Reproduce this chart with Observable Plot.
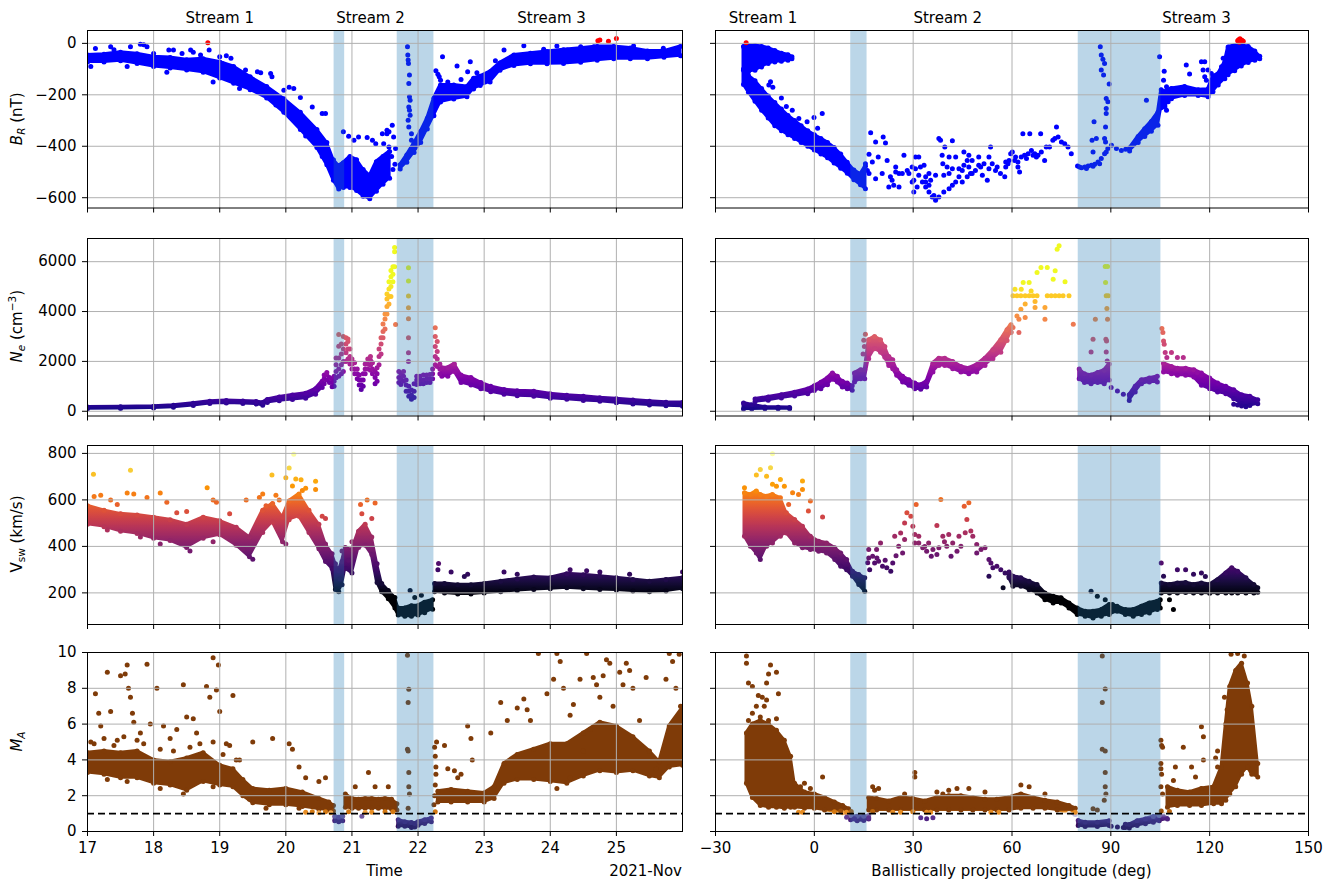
<!DOCTYPE html>
<html><head><meta charset="utf-8">
<script src="https://cdn.jsdelivr.net/npm/d3@7"></script>
<script src="https://cdn.jsdelivr.net/npm/@observablehq/plot@0.6"></script>
<style>
html,body{margin:0;padding:0;background:#fff;}
#fig{position:relative;width:1336px;height:882px;overflow:hidden;background:#fff;}
</style></head><body><div id="fig"></div>
<script>
// ---------------- axes / annotations ----------------
const timeTicks = [17,18,19,20,21,22,23,24,25];
const lonTicks = [-30,0,30,60,90,120,150];
const brTicks = [0,-200,-400,-600];
const neTicks = [0,2000,4000,6000];
const vTicks = [200,400,600,800];
const maTicks = [0,2,4,6,8,10];
const spanTimeStart = [20.73, 21.685], spanTimeEnd = [20.89, 22.24];
const spanLonStart = [11.05, 80.1], spanLonEnd = [16.0, 105.2];
const streamNames = ["Stream 1","Stream 2","Stream 3"];
const streamTimePos = [19.0, 21.28, 24.02];
const streamLonPos = [-15.6, 40.5, 116.0];

// ---------------- B_R vs time ----------------
const brL1T  = [17.0,17.25,17.5,17.75,18.0,18.25,18.5,18.75,19.0,19.21,19.46,19.71,19.97,20.22,20.47,20.62,20.72,20.8,20.87,20.97,21.07,21.17,21.27,21.37,21.47,21.57];
const brL1Lo = [-72,-72,-68,-78,-90,-96,-104,-112,-135,-155,-180,-212,-268,-335,-405,-472,-532,-566,-560,-560,-572,-594,-604,-575,-548,-524];
const brL1Hi = [-45,-42,-35,-40,-52,-55,-64,-60,-72,-90,-130,-168,-215,-268,-335,-385,-452,-476,-464,-440,-452,-490,-514,-460,-440,-420];
const brL2T  = [21.73,21.83,21.94,22.04,22.14,22.24,22.34,22.54,22.74,22.84,22.94,23.09,23.24,23.45,23.7,23.95,24.2,24.46,24.71,24.96,25.21,25.47,25.72,25.97];
const brL2Lo = [-488,-462,-424,-385,-333,-281,-228,-216,-208,-177,-164,-150,-105,-86,-79,-79,-78,-73,-66,-60,-60,-60,-54,-48];
const brL2Hi = [-472,-434,-388,-343,-291,-213,-162,-162,-168,-136,-128,-110,-76,-45,-38,-32,-25,-19,-12,-12,-18,-30,-30,-12];
const brDotsL = [[17.12,-20],[17.35,-13],[17.65,-13],[17.8,-3],[17.85,-5],[17.9,-13],[18.0,-39],[18.23,-26],[18.3,-26],[18.43,-39],[18.56,-26],[18.71,-45],[18.84,-26],[19.0,-52],[19.04,-78],[19.17,-58],[19.39,-104],[19.57,-110],[19.62,-114],[19.77,-117],[19.79,-130],[19.97,-182],[20.05,-171],[20.12,-175],[20.22,-210],[20.4,-247],[20.55,-273],[20.6,-273],[20.87,-344],[20.95,-361],[21.03,-377],[21.1,-364],[21.23,-366],[21.31,-377],[21.36,-390],[21.53,-351],[21.56,-344],[21.46,-351],[21.53,-338],[21.61,-318],[21.63,-364],[21.48,-390],[21.56,-403],[21.66,-409],[21.6,-440],[21.65,-470],[21.62,-490],
[21.84,-13],[21.845,-45],[21.85,-65],[21.855,-78],[21.87,-123],[21.86,-156],[21.87,-208],[21.88,-221],[21.86,-247],[21.87,-260],[21.88,-279],[21.85,-299],[21.86,-325],[21.9,-351],[21.9,-377],
[22.27,-106],[22.34,-143],[22.37,-52],[22.32,-130],[22.3,-120],[22.59,-88],[22.75,-110],[22.79,-71],[22.89,-114],[23.17,-68],[23.3,-26],[23.6,-9],[23.9,-23],[24.1,-10],[24.26,-26],[24.46,-13],[24.66,-13],[25.26,-10],[25.71,-19],[22.45,-150],[22.65,-140],
[17.05,-90],[17.6,-90],[18.2,-112],[18.9,-150],[19.3,-175],[19.85,-240],[20.3,-360],[20.55,-440],[17.4,-25],[18.6,-35],[19.1,-48],
[18.82,2],[24.72,10],[24.75,13],[24.88,8],[25.0,19]];

// ---------------- B_R vs longitude ----------------
const brRcT  = [-21.5,-20,-18,-16,-14,-12,-10,-8,-6.8];
const brRcLo = [-100,-110,-105,-92,-78,-72,-70,-66,-60];
const brRcHi = [-12,-8,-8,-12,-18,-28,-38,-44,-52];
const brRmT  = [-21.5,-20,-18,-16,-14,-12,-10,-8,-6,-4,-2,0,2,4,6,8,10,12,14,15.5];
const brRmLo = [-160,-190,-225,-260,-290,-320,-340,-355,-370,-385,-400,-415,-430,-445,-465,-485,-505,-530,-550,-565];
const brRmHi = [-105,-125,-145,-175,-205,-230,-255,-280,-300,-320,-340,-355,-370,-385,-405,-430,-462,-492,-508,-478];
const brRsT  = [95.7,98.3,100.3,102.3,104.3,105.3,106.4,108.4,112.4,116.5,119.5,121,122.6,124.6,125.6,127.6,129.6,131.7,133.7,135.2];
const brRsLo = [-418,-385,-362,-342,-318,-250,-240,-215,-203,-203,-208,-188,-162,-138,-122,-106,-88,-74,-66,-60];
const brRsHi = [-407,-362,-332,-304,-268,-180,-188,-175,-168,-180,-178,-128,-118,-72,-14,-8,-8,-12,-30,-50];
const brDotsR = [[-13.8,-162],[-12.6,-171],[-10,-212],[-4.7,-292],[-0.1,-288],[2.4,-273],[-2.2,-305],[2.9,-387],[-13.3,-149],[-6.7,-260],[-8.5,-245],[-5.5,-320],[1,-330],
[17.1,-347],[18.6,-383],[20.9,-364],[21.6,-387],[16.6,-431],[19.4,-442],[22.1,-455],[17.6,-461],[15.5,-468],[16.1,-494],[16.6,-506],[18.6,-526],[20.6,-506],[23.1,-519],[24.7,-481],[25.7,-506],[27.2,-435],[28.2,-494],[29.7,-481],[30.7,-442],[30.2,-532],[31.7,-513],[32.8,-539],[33.8,-558],[34.8,-552],[35.8,-597],[36.8,-610],[37.8,-597],[39.3,-578],[40.9,-565],[41.9,-552],[42.9,-539],[43.9,-519],[44.9,-539],[46.4,-519],[47.4,-506],[48.9,-494],[49.9,-474],[51,-513],[53,-487],[53,-442],[53.5,-403],[55,-494],[56.5,-506],[58.1,-481],[59.1,-455],[60.1,-422],[61.1,-442],[37.8,-370],[38.3,-377],[39.6,-403],[41.9,-379],[40.9,-442],[42.9,-442],[38.8,-435],[45.4,-422],[46.4,-455],[46.9,-435],[47.9,-455],[45.4,-474],[43.9,-487],[39.3,-513],[40.9,-506],[40.3,-481],[36.8,-513],[34.8,-506],[33.3,-474],[33.8,-519],[25.7,-558],[26.7,-506],[24.1,-552],[22.6,-558],[30.2,-578],[28.7,-506],[30.7,-487],[32.2,-481],[34.8,-578],[36.3,-591],[24.7,-500],[23.6,-532],[52.5,-532],[49.9,-442],[47.9,-506],[29.7,-539],[31.2,-558],[33.8,-539],[31.7,-442],[35.3,-532],[41.9,-487],[39,-468],[44.9,-494],[46.9,-481],[50.5,-481],[51.5,-468],[54,-468],[55.5,-481],[58.1,-461],[59.6,-429],
[57.8,-519],[58.8,-468],[60.8,-455],[61.8,-481],[62.3,-500],[62.8,-442],[63.8,-435],[64.9,-429],[65.9,-416],[66.9,-429],[67.9,-435],[68.9,-422],[69.9,-455],[70.4,-403],[71.4,-403],[72.4,-377],[73,-370],[73.5,-325],[74,-364],[75,-383],[76,-390],[77,-403],[78,-429],[63.3,-351],[65.4,-351],[68.7,-351],[61.8,-461],[64.4,-448],[66.4,-435],[67.4,-442],
[79.9,-477],[81.1,-484],[82.1,-481],[83.1,-477],[84.1,-474],[85.1,-470],[86.1,-461],[87.1,-448],[88.1,-429],[88.6,-422],[89.1,-409],[90.2,-396],[80.5,-481],[82.6,-486],[84.6,-478],[86.6,-468],
[86.8,-13],[87.1,-45],[87.6,-62],[88.1,-78],[87.1,-104],[87.8,-123],[89.5,-158],[88.6,-214],[89.1,-227],[88.6,-253],[88.6,-273],[88.4,-325],[88.1,-370],[88.4,-383],
[84.9,-305],[84.3,-377],[85.6,-370],[84.6,-422],[91.7,-409],[93.2,-416],[94.5,-412],
[104.8,-52],[106.2,-108],[106,-143],[106.9,-169],[112.9,-84],[113.9,-119],[117.5,-71],[118.5,-71],[118,-104],[119.5,-104],[120.5,-117],[121.5,-143],[124.1,-58],[123.6,-91],[118.5,-130],[119,-143],[100.8,-221],[107.4,-227],[106.4,-247],[106.9,-260],
[-20.7,2],[128.5,10],[129.2,18],[129.8,12],[130.2,8],[129,4],[128.8,14]];

// ---------------- N_e vs time ----------------
const neLAT  = [17.0,17.5,18.0,18.3,18.6,18.85,19.1,19.35,19.55,19.65,19.72,19.9,20.1,20.3,20.45,20.55];
const neLALo = [100,110,130,160,230,310,330,310,290,240,350,420,470,520,680,950];
const neLAHi = [170,180,200,240,320,400,430,410,390,350,470,570,650,720,900,1200];
const neLBT  = [22.36,22.45,22.55,22.65,22.8,22.95,23.1,23.3,23.5,23.75,24.0,24.25,24.5,24.75,25.0,25.25,25.5,25.75,26.0];
const neLBLo = [1400,1400,1600,1150,1050,900,780,680,620,600,520,480,430,400,340,290,250,220,200];
const neLBHi = [1750,1750,1900,1450,1350,1150,1000,870,820,800,700,640,600,540,500,450,400,360,350];
const neRowsL = [[20.58,1100,1300,1450],[20.62,1250,1450,1550],[20.66,1150,1350],[20.7,980,1150,1300],[20.73,1000,1200,1400],[20.76,1340,1600,1870,2140],[20.8,1400,1700,2140,2610,3080],[20.84,1500,1870,2300,2700],[20.87,1600,2000,2500,3000],[20.91,2000,2350,2700,2950],[20.94,2100,2500,2800,2900],[20.97,1900,2200,2500],[21.0,1700,1900,2100],[21.04,1500,1700,1950],[21.08,1300,1500,1700],[21.11,1050,1250,1450],[21.14,870,1050,1250],[21.17,1000,1250,1500],[21.2,1500,1700,1900],[21.24,1700,1900,2100],[21.28,1650,1850,2050,2200],[21.31,1500,1700,1950],[21.35,1100,1350,1600],[21.38,1200,1500,1750],[21.41,1870,2200,2500],[21.44,2300,2700,2950],[21.47,2950,3200,3500],[21.5,3300,3700,3900],[21.53,3900,4200,4500,4700],[21.56,4300,4600,4900,5200],[21.59,4600,5000,5400,5650],[21.62,5200,5500,5800],[21.645,5800,6400,6570],[21.66,3480],[21.71,1150,1350,1600],[21.74,1070,1300,1500],[21.78,1200,1400,1600],[21.82,800,1050,1250],[21.86,600,800,1000],[21.9,480,650,850],[21.94,550,800,1100],[21.98,1070,1250,1400],[22.03,1100,1250,1400],[22.08,1100,1250,1450],[22.13,1150,1300,1450],[22.18,1150,1300,1470],[22.22,1300,1500,1700],[22.26,1870,2200,2600,3000,3350],[22.29,1800,2100,2400,2800],[22.33,1500,1700,1900],[21.855,5760,5225,4622,4152,3710,2946,2343,2000]];

// ---------------- N_e vs longitude ----------------
const neR1T = [-21.5,-19,-15,-11,-7.5], neR1Lo = [90,90,100,100,100], neR1Hi = [330,260,170,160,150];
const neR2T = [-18,-14,-10,-6,-2,0,2,4,5.5,7,8.5,10,11.5];
const neR2Lo = [380,440,530,610,700,830,900,1060,1280,1170,970,900,840];
const neR2Hi = [490,570,660,760,890,1020,1160,1330,1530,1400,1200,1130,1020];
const neR3T = [12.2,14.1,15.3,16.5,18.3,20.1,21.4,22.6,23.8,25,26.8,28.7,30.5,32.3,34.1,36,37.8,39.6,42,44.5,46.9,49.3,51.8,54.2,56.6,58.5,59.7];
const neR3Lo = [1170,1300,1300,2110,2510,2370,2170,1840,1710,1440,1170,1040,900,880,970,1570,1840,1840,1710,1570,1500,1570,1840,2110,2370,2840,3180];
const neR3Hi = [1530,1670,1670,2870,3000,2870,2600,2200,2070,1670,1400,1260,1130,1060,1200,1930,2130,2130,2000,1800,1730,1870,2130,2470,2870,3270,3470];
const neR4T = [80.4,82,84,86,88,89.5], neR4Lo = [1300,1150,1100,1150,1100,1250], neR4Hi = [1700,1500,1450,1550,1650,1900];
const neR5T = [95.6,97.4,99.3,101.7,104.1], neR5Lo = [430,770,1100,1170,1170], neR5Hi = [660,1000,1260,1330,1400];
const neR6T = [106,108.4,110.2,112.7,115.2,117.5,120,122.4,124.9,127.3,129.7,132.2,134.6];
const neR6Lo = [1570,1500,1440,1440,1370,1040,900,770,700,500,300,230,300];
const neR6Hi = [1930,1800,1730,1730,1670,1530,1330,1130,1000,860,660,600,460];
const neDotsR = [[60.9,4896],[62.8,4896],[63.4,5164],[65.2,5164],[65.8,4829],[67.6,5565],[68.8,5766],[70.7,5766],[72.5,5298],[73.1,5632],[73.7,6502],[74.3,6635],[76.1,5191],
[60.3,4629],[61.5,4629],[62.7,4629],[64,4629],[65.2,4629],[66.4,4629],[67.6,4629],[70.7,4629],[71.9,4629],[73.1,4629],[74.3,4629],[75.5,4629],[77.3,4629],
[62.7,4094],[61.5,3826],[62.1,3692],[64,3759],[67,4161],[70,4161],[70,3692],[62.1,3157],[60.3,3358],[59.7,3157],[78.6,3492],[64,4300],[67,4400],
[88.3,5806],[89.0,5806],[88.4,5164],[88.6,4629],[89.2,4629],[88.8,4120],[89.0,3692],[88.5,2890],[88.7,2823],[88.6,2381],[88.9,2020],
[85.3,3692],[84.6,2890],[84,2381],[90.1,950],[92,816],[93.8,682],
[105.5,3318],[105.8,3157],[106,2823],[106.2,2689],[106.5,2355],[107,2154],[108.4,2355],[110.2,2154],[112,2154],[116.3,1550],[117.5,1450],[14.8,2300],[15.2,2600],[15.5,3090],[15.0,2850],[127.3,281],[129.7,214],[131,180],[128.5,250]];

// ---------------- V_sw vs time ----------------
const vL1T  = [17.0,17.25,17.5,17.75,18.0,18.25,18.5,18.75,19.0,19.25,19.45,19.65,19.8,19.95,20.05,20.2,20.35,20.5,20.6,20.7,20.75,20.8,20.85,20.9,21.0,21.1,21.2,21.3,21.38,21.45,21.55,21.65,21.7,21.8,21.9,22.0,22.1,22.22];
const vL1Lo = [495,485,465,455,435,425,395,435,450,405,355,460,505,420,515,530,460,390,335,305,215,205,235,305,285,395,405,365,245,205,175,135,105,100,100,105,115,130];
const vL1Hi = [575,555,540,535,525,515,495,525,510,482,440,555,585,525,595,625,555,495,410,368,325,295,335,395,385,465,495,440,325,240,210,180,135,135,145,145,160,170];
const vL2T  = [22.25,22.4,22.6,22.8,23.0,23.25,23.5,23.75,24.0,24.25,24.5,24.75,25.0,25.25,25.5,25.75,26.0];
const vL2Lo = [205,200,195,195,200,205,210,215,218,222,218,215,212,208,205,208,218];
const vL2Hi = [240,240,235,235,240,250,260,268,265,282,278,272,265,258,250,258,265];
const vDotsL = [[17.09,710],[17.1,615],[17.2,620],[17.35,600],[17.65,727],[17.6,630],[17.7,625],[17.9,610],[18.1,630],[18.2,590],[18.5,550],[18.81,652],[18.9,600],[18.95,590],[19.4,600],[19.6,610],[19.65,625],[19.79,707],[19.85,620],[19.9,600],[20.0,695],[20.05,737],[20.12,796],[20.1,660],[20.15,690],[20.23,687],[20.25,640],[20.3,650],[20.45,680],[20.45,645],[20.55,530],[20.6,520],[21.13,580],[21.23,600],[21.35,587],[21.15,540],[21.3,520],[20.82,260],[20.85,380],[21.0,420],[20.95,340],[22.31,326],[22.3,300],[22.5,290],[22.75,280],[23.3,290],[24.3,300],[24.55,295],[24.75,290],[26.0,290],[22.7,270],[23.5,280],[25.2,280],[21.88,210],[21.95,180],[22.05,190],
[17.3,470],[17.8,440],[18.1,410],[18.55,380],[18.9,420],[19.35,390],[19.5,345],[20.0,410],[17.45,580],[18.35,545],[19.15,540],[19.7,575]];

// ---------------- V_sw vs longitude ----------------
const vR1T  = [-21.2,-19.4,-17.6,-16.4,-14.5,-12.7,-10.3,-8.5,-6,-3.6,-1.2,1.3,3.7,6.2,8,9.8,11.6,13.5,15.3];
const vR1Lo = [444,401,372,344,401,415,444,458,415,394,387,379,372,344,315,300,272,236,207];
const vR1Hi = [631,623,638,623,616,623,609,545,516,487,444,422,415,394,372,344,293,279,265];
const vR2T  = [59.1,60.3,62.7,65.2,67.6,70,72.5,74.9,77.3,79.8,82.2,84.6,87.1,89.5,91.9,94.4,96.8,99.3,101.7,104.1,105];
const vR2Lo = [265,229,229,214,200,171,157,157,135,107,100,92,100,107,121,107,100,107,114,128,135];
const vR2Hi = [290,272,265,250,236,200,186,179,157,135,121,121,128,150,143,128,128,143,157,164,170];
const vR3T  = [105.3,107.8,110.2,112.7,115.1,117.5,120,122.4,124.9,126.7,128.5,131,133.4,134.6];
const vR3Lo = [200,200,200,202,200,200,198,200,200,200,200,200,200,203];
const vR3Hi = [243,236,243,245,236,243,236,257,286,308,293,265,236,222];
const vDotsR = [[-21.2,652],[-17.6,707],[-16.4,731],[-13.3,738],[-14.5,702],[-12.7,667],[-10.3,688],[-11.5,659],[-3.6,681],[-3.6,645],[-1.2,595],[-4.8,623],[2.5,526],[-1.8,552],[-12.7,799],[-9.1,659],[-6.6,631],[-7.8,580],
[16.5,387],[16.5,350],[16.2,330],[16.8,300],[17.7,358],[18.3,329],[19.5,336],[20.7,315],[18.9,387],[20.1,415],[22,308],[23.2,293],[23.8,329],[24.4,444],[25.6,401],[26.8,372],[26.2,458],[27.4,501],[28.1,545],[29.3,530],[29.9,487],[30.5,451],[30.9,580],[31.7,415],[32.9,394],[34.1,379],[34.7,415],[36,387],[37.2,365],[37.8,394],[38.4,602],[37.2,490],[39,444],[40.2,401],[40.8,451],[42,415],[43.3,379],[44.5,401],[45.5,573],[46.9,588],[46.3,516],[47.5,466],[48.1,444],[49.3,408],[50.6,387],[51.8,394],[53,344],[53.6,329],[54.2,308],[55.4,315],[56.6,300],[57.9,286],[59.1,272],[53,272],[57.3,222],[30.5,415],[27.4,430],[35.5,358],[41.5,358],[43.9,444],[45.8,459],[49.3,372],[31.7,444],[19,350],[21.5,340],[24.8,360],[33.5,400],[39.5,420],
[84,207],[85.9,186],[88.3,171],[90.5,150],[93.2,128],
[105.3,329],[106,272],[107.8,171],[109,128],[110.2,300],[112.7,300],[115.1,280],[117.5,286],[118.7,270]];

// ---------------- M_A vs time ----------------
const maL1T  = [17.0,17.25,17.5,17.75,18.0,18.25,18.5,18.75,19.0,19.2,19.35,19.5,19.75,20.0,20.25,20.5,20.65,20.72];
const maL1Lo = [3.3,3.2,3.0,3.0,2.7,2.6,2.3,2.8,2.6,2.5,2.0,1.6,1.5,1.5,1.4,1.25,1.2,1.15];
const maL1Hi = [4.4,4.5,4.4,4.5,4.0,3.9,4.1,4.4,3.7,3.5,2.9,2.4,2.3,2.4,2.2,1.85,1.65,1.45];
const maL2T = [20.74,20.8,20.86], maL2Lo = [0.6,0.55,0.6], maL2Hi = [0.85,0.8,0.85];
const maL3T = [20.9,21.0,21.1,21.2,21.3,21.4,21.5,21.6,21.68];
const maL3Lo = [1.35,1.3,1.3,1.3,1.3,1.3,1.3,1.25,1.2];
const maL3Hi = [2.1,1.85,1.8,1.85,1.85,1.8,1.85,1.8,1.55];
const maL4T = [21.7,21.8,21.9,21.95,22.0,22.1,22.2];
const maL4Lo = [0.3,0.3,0.22,0.25,0.35,0.45,0.55];
const maL4Hi = [0.65,0.55,0.5,0.45,0.55,0.65,0.75];
const maL5T  = [22.3,22.5,22.75,23.0,23.15,23.3,23.5,23.75,24.0,24.25,24.5,24.75,25.0,25.25,25.5,25.65,25.8,26.0];
const maL5Lo = [1.65,1.65,1.65,1.65,1.85,2.7,2.9,2.9,2.8,2.7,3.1,3.4,3.3,3.4,3.1,3.0,3.6,3.7];
const maL5Hi = [2.25,2.35,2.25,2.15,2.5,3.8,4.3,4.6,4.9,4.9,5.5,6.1,5.9,5.3,4.5,3.9,5.9,6.9];
const maDotsL = [[17.12,7.7],[17.17,6.6],[17.2,5.9],[17.3,8.9],[17.35,6.7],[17.45,5.1],[17.5,8.7],[17.57,8.8],[17.6,9.3],[17.62,8.0],[17.65,7.5],[17.68,6.6],[17.7,6.1],[17.8,5.5],[17.9,9.35],[17.95,6.0],[18.05,8.0],[18.15,5.9],[18.25,5.2],[18.35,5.7],[18.45,8.2],[18.5,6.4],[18.6,6.3],[18.65,5.5],[18.8,8.1],[18.85,7.5],[18.9,9.7],[18.95,7.9],[18.98,9.3],[19.0,6.7],[19.1,4.9],[19.15,4.8],[19.2,7.6],[19.3,4.0],[19.5,5.0],[19.8,5.2],[20.05,4.9],[20.1,4.6],[20.2,3.6],[20.3,3.0],[20.5,2.8],[20.6,3.0],[21.05,2.5],[21.25,3.3],[21.35,2.5],[21.55,2.5],[22.4,4.8],[22.45,3.5],[22.55,3.4],[22.6,3.0],[22.65,3.2],[22.75,5.9],[22.8,5.2],[22.82,4.0],[23.1,5.5],[23.25,7.2],[23.35,6.2],[23.5,6.9],[23.6,7.4],[23.65,6.8],[23.7,6.2],[23.82,9.95],[23.95,7.7],[24.05,8.5],[24.1,9.95],[24.15,9.5],[24.2,8.0],[24.3,6.5],[24.35,7.1],[24.45,8.5],[24.55,9.95],[24.65,8.6],[24.7,8.2],[24.75,7.5],[24.8,8.7],[24.85,9.6],[24.9,9.4],[24.95,7.0],[25.05,8.9],[25.1,8.2],[25.15,9.4],[25.2,9.0],[25.25,8.0],[25.35,6.2],[25.45,8.6],[25.6,3.5],[25.75,8.5],[25.8,9.95],[25.85,9.5],[25.9,8.0],[25.95,9.9],[25.97,7.0],[24.3,3.0],[24.5,4.5],[24.6,5.7],[24.1,2.4],
[17.05,5.0],[17.1,4.9],[17.25,5.2],[17.4,4.8],[17.55,5.3],[17.75,5.1],[17.85,4.9],[18.1,4.6],[18.3,4.5],[18.55,4.7],[18.7,4.9],[18.9,5.0],[19.05,4.3],[19.25,4.0],[17.3,2.9],[17.6,2.8],[18.1,2.4],[18.45,2.1],[18.9,2.5],[19.45,1.8],[19.7,1.3],[20.2,1.3],
[20.3,1.08],[20.4,1.1],[20.5,1.05],[20.6,1.1],[20.68,1.05],[21.2,1.06],[21.5,1.1],[21.62,1.1],[22.26,1.1],[21.15,0.85],[20.95,1.1],[21.3,1.08],
[22.24,1.5],[22.25,2.0],[22.26,2.6],[22.27,3.2],[22.27,3.6],[22.26,4.2],[22.25,4.7],[22.28,5.0],
[21.84,9.85],[21.86,7.95],[21.85,7.2],[21.84,4.6],[21.85,4.5],[21.86,3.3],[21.86,2.5],[21.87,2.1],[21.85,1.3]];

// ---------------- M_A vs longitude ----------------
const maR1T  = [-20.6,-18.8,-16.4,-13.9,-11.5,-9.1,-7.2,-6,-3,0,3.1,6.1,8.6,10.4];
const maR1Lo = [2.7,1.9,1.45,1.35,1.35,1.3,1.35,1.35,1.3,1.3,1.2,1.1,1.05,0.95];
const maR1Hi = [5.5,6.0,6.2,6.0,5.65,5.1,4.2,2.7,2.2,2.1,1.9,1.65,1.45,1.27];
const maR2T = [11,13,15,16.5], maR2Lo = [0.65,0.6,0.62,0.7], maR2Hi = [0.9,0.85,0.85,0.9];
const maR3T  = [16.5,18.9,22.6,26.2,29.9,33.5,37.2,40.8,44.5,48.1,51.8,55.4,59.1,62.7,66.4,70,73.7,77.3,79.2];
const maR3Lo = [1.2,1.2,1.2,1.2,1.2,1.2,1.2,1.2,1.2,1.2,1.2,1.2,1.2,1.3,1.3,1.3,1.2,1.0,0.95];
const maR3Hi = [1.9,1.85,1.7,1.9,1.85,1.7,1.9,2.0,2.0,1.9,1.8,1.8,1.9,2.1,1.9,1.75,1.65,1.45,1.3];
const maR4T = [80.1,82.2,85.9,89.5], maR4Lo = [0.34,0.28,0.28,0.34], maR4Hi = [0.62,0.52,0.52,0.6];
const maR5T = [94.4,95.6,98,100.5,102.9,104.7,107.2], maR5Lo = [0.22,0.2,0.34,0.43,0.52,0.6,0.7], maR5Hi = [0.4,0.39,0.6,0.7,0.84,0.9,1.0];
const maR6T  = [107.2,110.2,113.9,117.5,121.2,123.6,124.9,126.1,127.9,129.7,131.5,132.8,134.6];
const maR6Lo = [1.35,1.45,1.45,1.45,1.55,1.55,1.75,2.1,2.5,3.2,3.6,3.2,3.05];
const maR6Hi = [2.5,2.3,2.2,2.4,2.5,3.6,6.0,8.1,9.0,9.4,8.3,7.0,3.8];
const maDotsR = [[-20.6,9.8],[-20.6,9.4],[-20,8.3],[-18.8,8.1],[-17,7.6],[-15.8,7.5],[-14.5,8.3],[-13.9,8.8],[-13.3,9.3],[-11.5,8.9],[-10.9,7.7],[-14.5,7.35],[-15.2,7.0],[-17.6,7.0],[-18.8,6.6],[-16.4,6.4],[-13.9,6.2],[-11.5,6.3],[-20,6.2],
[17.7,2.5],[18.3,2.3],[19.5,2.4],[27.4,2.1],[30.5,3.3],[30.5,3.05],[37.2,2.2],[39,2.1],[40.8,2.3],[43.3,2.4],[46.9,2.4],[51.8,2.2],[62.7,2.6],[65.2,2.5],[70,2.1],[-3,2.7],[2.5,3.05],[-4.2,2.5],[-1.2,2.4],
[-4.8,1.08],[-3.6,1.08],[8,1.14],[9.8,1.08],[17.7,1.12],[23.8,1.08],[26.2,1.08],[29.9,1.1],[34.1,1.08],[35.3,1.08],[53.6,1.08],[56,1.08],[79.2,1.08],[11.2,1.12],[105.3,1.14],[107.8,1.12],
[9.8,0.8],[12.2,0.71],[32.3,0.77],[34.1,0.71],[36,0.77],[16.5,0.77],
[87.4,9.8],[88.3,7.96],[87.4,7.2],[87.4,4.6],[88.3,4.5],[88.3,3.3],[88.3,2.5],[88.5,2.1],[88,1.74],[84.6,1.27],[85.9,1.2],[90.1,0.3],[92,0.25],[93.8,0.22],
[105.2,5.1],[105.4,4.8],[105.7,4.7],[105.2,3.8],[105.2,3.5],[105.4,3.2],[105.2,2.5],[105.7,2.1],[112,4.7],[117.5,5.85],[118.1,5.3],[118.1,4.0],[115.7,3.05],[114.5,3.6],[109.6,3.6],[109,2.85],[122.4,3.6],[122.4,4.5],[121.8,4.1],[126.5,9.9],[128.5,9.95],[130.5,9.8],[124.5,7.5],[125.3,6.8]];

// ---------------- rendering ----------------
const flat = rows => rows.flatMap(([x, ...vs]) => vs.map(v => [x, v]));
const ROWS = [{top:30,h:177.5},{top:237.5,h:177.5},{top:444.5,h:179},{top:652,h:179}];
const fmtNum = d => d < 0 ? "\u2212" + Math.abs(d) : String(d);
const fig = document.getElementById("fig");
const NS = "http://www.w3.org/2000/svg";

const brColor = {type: "threshold", domain: [0], range: ["#0000ff", "#ff0000"]};
const neColor = {type: "linear", scheme: "plasma", domain: [0, 5200], clamp: true};
const vColor = {type: "linear", scheme: "inferno", domain: [180, 800], clamp: true};
const maColor = {type: "linear", domain: [0.2,0.75,0.9,0.97,1.0,1.04,1.09,1.16], range: ["#2d004b","#542788","#8073ac","#d8daeb","#f7f7f7","#fdb863","#e08214","#7f3b08"], clamp: true};

function panel(o) {
  const left = o.col === 0;
  const R = ROWS[o.row];
  const ml = left ? 87 : 10, mr = left ? 3 : 10;
  const mt = o.row === 0 ? 30 : 6;
  const mb = o.row === 3 ? 882 - (R.top + R.h) : 6;
  const fw = left ? 595 : 593;
  const xTicks = left ? timeTicks : lonTicks;
  const marks = [];
  for (const b of o.bands) {
    marks.push(Plot.areaY(b[0], {x: b[0], y1: b[1], y2: b[2], fill: `url(#${o.id})`, stroke: `url(#${o.id})`, strokeWidth: 3, strokeLinejoin: "round", clip: true}));
    marks.push(Plot.dot(b[0], {x: b[0], y: b[1], fill: b[1], r: 2.5, clip: true}));
    marks.push(Plot.dot(b[0], {x: b[0], y: b[2], fill: b[2], r: 2.5, clip: true}));
  }
  marks.push(Plot.dot(o.dots, {x: d => d[0], y: d => d[1], fill: d => d[1], r: 2.5, clip: true}));
  const sa = left ? spanTimeStart : spanLonStart, sb = left ? spanTimeEnd : spanLonEnd;
  marks.push(Plot.rect(sa, {x1: sa, x2: sb, fill: "#1f77b4", fillOpacity: 0.3}));
  marks.push(Plot.ruleX(xTicks, {stroke: "#b0b0b0", strokeWidth: 1}));
  marks.push(Plot.ruleY(o.yTicks, {stroke: "#b0b0b0", strokeWidth: 1}));
  if (o.row === 3) marks.push(Plot.ruleY([1], {stroke: "#000", strokeWidth: 1.8, strokeDasharray: "7,4"}));
  if (o.row === 0) marks.push(Plot.text(streamNames, {x: left ? streamTimePos : streamLonPos, text: streamNames, frameAnchor: "top", dy: -12, lineAnchor: "middle", fill: "#000", fontSize: 15}));
  marks.push(Plot.frame({stroke: "#000", strokeWidth: 1}));
  const plot = Plot.plot({
    width: ml + fw + mr, height: mt + R.h + mb,
    marginLeft: ml, marginRight: mr, marginTop: mt, marginBottom: mb,
    style: {fontFamily: "'DejaVu Sans', sans-serif", fontSize: "15px", background: "transparent", color: "#000", overflow: "visible"},
    x: {domain: left ? [17, 26] : [-30, 150], ticks: xTicks, tickSize: 5, tickPadding: 6, tickFormat: o.row === 3 ? fmtNum : () => "", label: null},
    y: {domain: o.yDomain, ticks: o.yTicks, tickSize: 5, tickPadding: 6, tickFormat: left ? fmtNum : () => "", label: null},
    color: o.color,
    marks
  });
  // vertical gradient so the dense bands follow the same colour scale as the dots
  const ys = plot.scale("y"), cs = plot.scale("color");
  const defs = document.createElementNS(NS, "defs");
  const g = document.createElementNS(NS, "linearGradient");
  g.setAttribute("id", o.id);
  g.setAttribute("gradientUnits", "userSpaceOnUse");
  const [d0, d1] = o.yDomain;
  g.setAttribute("x1", 0); g.setAttribute("x2", 0);
  g.setAttribute("y1", ys.apply(d0)); g.setAttribute("y2", ys.apply(d1));
  const N = 200;
  for (let i = 0; i <= N; ++i) {
    const v = d0 + (d1 - d0) * i / N;
    const s = document.createElementNS(NS, "stop");
    s.setAttribute("offset", i / N);
    s.setAttribute("stop-color", cs.apply(v));
    g.appendChild(s);
  }
  defs.appendChild(g);
  plot.insertBefore(defs, plot.firstChild);
  plot.style.position = "absolute";
  plot.style.left = (left ? 0 : 705) + "px";
  plot.style.top = (R.top - mt) + "px";
  fig.appendChild(plot);
}

panel({id: "gBrL", col: 0, row: 0, yDomain: [-640, 50], yTicks: brTicks, color: brColor,
  bands: [[brL1T, brL1Lo, brL1Hi], [brL2T, brL2Lo, brL2Hi]], dots: brDotsL});
panel({id: "gBrR", col: 1, row: 0, yDomain: [-640, 50], yTicks: brTicks, color: brColor,
  bands: [[brRcT, brRcLo, brRcHi], [brRmT, brRmLo, brRmHi], [brRsT, brRsLo, brRsHi]], dots: brDotsR});
panel({id: "gNeL", col: 0, row: 1, yDomain: [-190, 6930], yTicks: neTicks, color: neColor,
  bands: [[neLAT, neLALo, neLAHi], [neLBT, neLBLo, neLBHi]], dots: flat(neRowsL)});
panel({id: "gNeR", col: 1, row: 1, yDomain: [-190, 6930], yTicks: neTicks, color: neColor,
  bands: [[neR1T, neR1Lo, neR1Hi], [neR2T, neR2Lo, neR2Hi], [neR3T, neR3Lo, neR3Hi], [neR4T, neR4Lo, neR4Hi], [neR5T, neR5Lo, neR5Hi], [neR6T, neR6Lo, neR6Hi]], dots: neDotsR});
panel({id: "gVL", col: 0, row: 2, yDomain: [64, 834], yTicks: vTicks, color: vColor,
  bands: [[vL1T, vL1Lo, vL1Hi], [vL2T, vL2Lo, vL2Hi]], dots: vDotsL});
panel({id: "gVR", col: 1, row: 2, yDomain: [64, 834], yTicks: vTicks, color: vColor,
  bands: [[vR1T, vR1Lo, vR1Hi], [vR2T, vR2Lo, vR2Hi], [vR3T, vR3Lo, vR3Hi]], dots: vDotsR});
panel({id: "gMaL", col: 0, row: 3, yDomain: [0, 10], yTicks: maTicks, color: maColor,
  bands: [[maL1T, maL1Lo, maL1Hi], [maL2T, maL2Lo, maL2Hi], [maL3T, maL3Lo, maL3Hi], [maL4T, maL4Lo, maL4Hi], [maL5T, maL5Lo, maL5Hi]], dots: maDotsL});
panel({id: "gMaR", col: 1, row: 3, yDomain: [0, 10], yTicks: maTicks, color: maColor,
  bands: [[maR1T, maR1Lo, maR1Hi], [maR2T, maR2Lo, maR2Hi], [maR3T, maR3Lo, maR3Hi], [maR4T, maR4Lo, maR4Hi], [maR5T, maR5Lo, maR5Hi], [maR6T, maR6Lo, maR6Hi]], dots: maDotsR});

// axis titles
const ov = document.createElementNS(NS, "svg");
ov.setAttribute("width", 1336); ov.setAttribute("height", 882);
ov.setAttribute("style", "position:absolute;left:0;top:0;pointer-events:none");
ov.setAttribute("font-family", "DejaVu Sans, sans-serif");
ov.setAttribute("font-size", "15");
ov.innerHTML = `
<text transform="translate(22,118.75) rotate(-90)" text-anchor="middle"><tspan font-style="italic">B</tspan><tspan font-style="italic" font-size="10.5" dy="3">R</tspan><tspan dy="-3"> (nT)</tspan></text>
<text transform="translate(22,326.25) rotate(-90)" text-anchor="middle"><tspan font-style="italic">N</tspan><tspan font-style="italic" font-size="10.5" dy="3">e</tspan><tspan dy="-3"> (cm</tspan><tspan font-size="10.5" dy="-6">\u22123</tspan><tspan dy="6">)</tspan></text>
<text transform="translate(22,534) rotate(-90)" text-anchor="middle"><tspan>V</tspan><tspan font-size="10.5" dy="3">sw</tspan><tspan dy="-3"> (km/s)</tspan></text>
<text transform="translate(22,741.5) rotate(-90)" text-anchor="middle"><tspan font-style="italic">M</tspan><tspan font-style="italic" font-size="10.5" dy="3">A</tspan></text>
<text x="384.5" y="876" text-anchor="middle">Time</text>
<text x="682" y="876" text-anchor="end">2021-Nov</text>
<text x="1011.5" y="876" text-anchor="middle">Ballistically projected longitude (deg)</text>`;
fig.appendChild(ov);
</script></body></html>
